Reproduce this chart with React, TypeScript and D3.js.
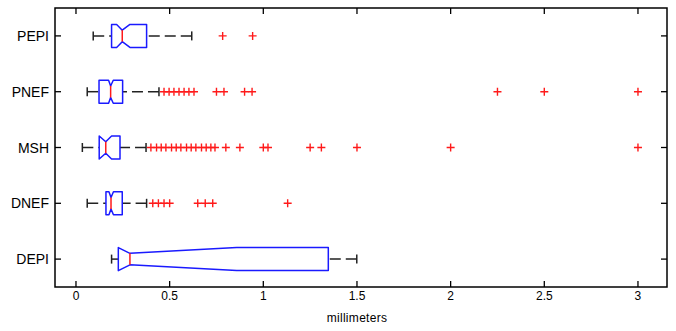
import * as d3 from 'd3';

const categories = ['PEPI', 'PNEF', 'MSH', 'DNEF', 'DEPI'];
const whiskerLo = [0.092, 0.06, 0.034, 0.06, 0.19];
const q1 = [0.19, 0.123, 0.124, 0.16, 0.226];
const notchLo = [0.217, 0.174, 0.124, 0.176, 0.226];
const median = [0.247, 0.185, 0.159, 0.187, 0.288];
const notchHi = [0.288, 0.199, 0.19, 0.2, 0.858];
const q3 = [0.377, 0.249, 0.235, 0.247, 1.347];
const whiskerHi = [0.618, 0.443, 0.374, 0.377, 1.499];
const outliers = [
  [0.783, 0.943],
  [0.47, 0.497, 0.523, 0.55, 0.577, 0.603, 0.63, 0.75, 0.79, 0.9, 0.94, 2.25, 2.5, 3.0],
  [0.4, 0.43, 0.455, 0.48, 0.51, 0.535, 0.56, 0.59, 0.615, 0.64, 0.67, 0.695, 0.72, 0.742,
    0.8, 0.875, 1.0, 1.025, 1.25, 1.31, 1.5, 2.0, 3.0],
  [0.41, 0.44, 0.47, 0.5, 0.65, 0.69, 0.73, 1.13],
  [],
];
const xTicks = [0, 0.5, 1, 1.5, 2, 2.5, 3];
const xLabel = 'millimeters';

const W = 676;
const H = 331;
const PLOT = { left: 55, right: 667, top: 8, bottom: 287 };
const BOX_HALF = 11.5;
const NOTCH = 0.25;
const TICK = 6;
const FONT = '"Liberation Sans", Arial, sans-serif';

export default function App() {
  const x = d3.scaleLinear().domain([-0.112, 3.155]).range([PLOT.left, PLOT.right]);
  const y = d3.scaleBand<string>().domain(categories).range([PLOT.top, PLOT.bottom]);
  const cy = (c: string) => (y(c) ?? 0) + y.bandwidth() / 2;

  return (
    <svg width={W} height={H} style={{ position: 'absolute', left: 0, top: 0, background: '#fff' }}
      fontFamily={FONT}>
      {/* frame */}
      <rect x={PLOT.left} y={PLOT.top} width={PLOT.right - PLOT.left} height={PLOT.bottom - PLOT.top}
        fill="none" stroke="#000" strokeWidth={1.5} />

      {/* x ticks */}
      {xTicks.map(t => (
        <g key={t}>
          <line x1={x(t)} x2={x(t)} y1={PLOT.bottom} y2={PLOT.bottom - TICK} stroke="#000" strokeWidth={1.3} />
          <line x1={x(t)} x2={x(t)} y1={PLOT.top} y2={PLOT.top + TICK} stroke="#000" strokeWidth={1.3} />
          <text x={x(t)} y={PLOT.bottom + 13} textAnchor="middle" fontSize={12} fill="#000">{t}</text>
        </g>
      ))}
      <text x={357} y={322} textAnchor="middle" fontSize={12} letterSpacing={0.3} fill="#000">{xLabel}</text>

      {/* y ticks */}
      {categories.map(c => (
        <g key={c}>
          <line x1={PLOT.left} x2={PLOT.left + TICK} y1={cy(c)} y2={cy(c)} stroke="#000" strokeWidth={1.3} />
          <line x1={PLOT.right} x2={PLOT.right - TICK} y1={cy(c)} y2={cy(c)} stroke="#000" strokeWidth={1.3} />
          <text x={PLOT.left - 6} y={cy(c)} dy="0.36em" textAnchor="end" fontSize={14} fill="#000">{c}</text>
        </g>
      ))}

      {/* boxes */}
      {categories.map((c, i) => {
        const yc = cy(c);
        const top = yc - BOX_HALF;
        const bot = yc + BOX_HALF;
        const d = BOX_HALF * 2 * NOTCH;
        const path = d3.path();
        path.moveTo(x(q1[i]), top);
        path.lineTo(x(notchLo[i]), top);
        path.lineTo(x(median[i]), top + d);
        path.lineTo(x(notchHi[i]), top);
        path.lineTo(x(q3[i]), top);
        path.lineTo(x(q3[i]), bot);
        path.lineTo(x(notchHi[i]), bot);
        path.lineTo(x(median[i]), bot - d);
        path.lineTo(x(notchLo[i]), bot);
        path.lineTo(x(q1[i]), bot);
        path.closePath();
        return (
          <g key={c}>
            <line x1={x(whiskerLo[i])} x2={x(q1[i])} y1={yc} y2={yc} stroke="#222" strokeWidth={1.5}
              strokeDasharray="11,5" />
            <line x1={x(whiskerHi[i])} x2={x(q3[i])} y1={yc} y2={yc} stroke="#222" strokeWidth={1.5}
              strokeDasharray="11,5" />
            <line x1={x(whiskerLo[i])} x2={x(whiskerLo[i])} y1={yc - 4.5} y2={yc + 4.5} stroke="#222" strokeWidth={1.5} />
            <line x1={x(whiskerHi[i])} x2={x(whiskerHi[i])} y1={yc - 4.5} y2={yc + 4.5} stroke="#222" strokeWidth={1.5} />
            <path d={path.toString()} fill="#fff" stroke="#1a1aff" strokeWidth={1.5} strokeLinejoin="round" />
            <line x1={x(median[i])} x2={x(median[i])} y1={top + d} y2={bot - d} stroke="#ff1a1a" strokeWidth={1.5} />
            {outliers[i].map((v, k) => (
              <path key={k} d={`M${x(v) - 4},${yc}H${x(v) + 4}M${x(v)},${yc - 4}V${yc + 4}`}
                stroke="#ff1a1a" strokeWidth={1.4} fill="none" />
            ))}
          </g>
        );
      })}
    </svg>
  );
}
